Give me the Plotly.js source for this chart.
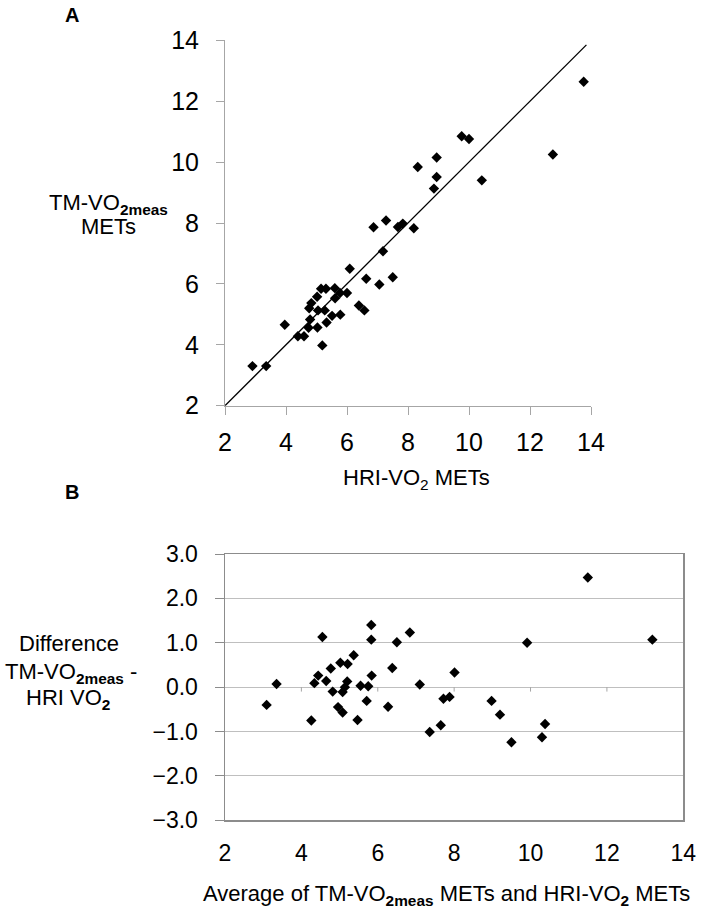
<!DOCTYPE html>
<html>
<head>
<meta charset="utf-8">
<script src="https://cdn.plot.ly/plotly-3.0.1.min.js"></script>
<style>html,body{margin:0;padding:0;background:#fff;}#chart{width:704px;height:909px;}</style>
</head>
<body>
<div id="chart"></div>
<script>
// Panel A: HRI-VO2 METs (x) vs TM-VO2meas METs (y)
const hriMets = [8.32, 8.94, 8.94, 8.85, 10.42, 7.28, 6.87, 7.67, 7.83, 8.19, 7.18, 6.09, 6.63, 7.06, 7.50,
  6.39, 6.57, 5.15, 5.31, 5.60, 5.02, 4.83, 4.76, 5.61, 5.77, 6.00, 5.05, 5.27, 4.79, 5.33, 5.51, 5.78,
  4.74, 5.03, 3.96, 4.39, 4.59, 5.19, 13.76, 12.75, 9.76, 10.00, 2.90, 3.35];
const tmMets = [9.84, 10.15, 9.51, 9.13, 9.40, 8.08, 7.86, 7.87, 7.98, 7.83, 7.07, 6.50, 6.17, 5.98, 6.22,
  5.29, 5.13, 5.84, 5.84, 5.86, 5.58, 5.37, 5.20, 5.53, 5.70, 5.70, 5.13, 5.13, 4.83, 4.73, 4.95, 4.99,
  4.56, 4.57, 4.66, 4.28, 4.28, 3.98, 12.64, 10.25, 10.85, 10.76, 3.30, 3.30];
const identityLine = [2, 13.85];

// Panel B: Bland-Altman
const avgMets = [3.09, 3.35, 4.26, 4.34, 4.44, 4.55, 4.65, 4.77, 4.82, 4.96, 5.02, 5.08, 5.08, 5.14, 5.20,
  5.21, 5.37, 5.47, 5.55, 5.71, 5.75, 5.83, 5.83, 5.84, 6.27, 6.38, 6.50, 6.84, 7.10, 7.36, 7.65, 7.72,
  7.88, 8.01, 8.98, 9.20, 9.50, 9.91, 10.30, 10.38, 13.19, 11.50];
const diffMets = [-0.40, 0.07, -0.75, 0.09, 0.26, 1.13, 0.14, 0.42, -0.10, -0.45, 0.55, -0.57, -0.11, 0.0, 0.13,
  0.52, 0.72, -0.74, 0.03, -0.31, 0.02, 1.40, 1.07, 0.26, -0.44, 0.43, 1.01, 1.23, 0.06, -1.01, -0.86, -0.26,
  -0.22, 0.33, -0.31, -0.62, -1.24, 1.00, -1.13, -0.83, 1.07, 2.47];

const xTicksA = [2, 4, 6, 8, 10, 12, 14];
const yTicksA = [2, 4, 6, 8, 10, 12, 14];
const xTicksB = [2, 4, 6, 8, 10, 12, 14];
const yTicksB = [-3, -2, -1, 0, 1, 2, 3];

const FONT = 'Liberation Sans, Arial, sans-serif';
const W = 704, H = 909;
const px = v => v / W;
const py = v => 1 - v / H;

const traces = [
  {x: identityLine, y: identityLine, xaxis: 'x', yaxis: 'y', mode: 'lines',
   line: {color: '#000', width: 1.3}, hoverinfo: 'skip', showlegend: false},
  {x: hriMets, y: tmMets, xaxis: 'x', yaxis: 'y', mode: 'markers', type: 'scatter',
   marker: {symbol: 'diamond', size: 8, color: '#000'}, showlegend: false},
  {x: avgMets, y: diffMets, xaxis: 'x2', yaxis: 'y2', mode: 'markers', type: 'scatter',
   marker: {symbol: 'diamond', size: 8, color: '#000'}, showlegend: false}
];

// small tick marks on the zero line of panel B (Excel style)
const zeroTicks = xTicksB.slice(1, -1).map(v => ({
  type: 'line', xref: 'x2', yref: 'y2', x0: v, x1: v, y0: 0, y1: -0.1,
  line: {color: '#a6a6a6', width: 1}
}));

function ann(text, x, y, size, opts) {
  return Object.assign({text: text, x: px(x), y: py(y), xref: 'paper', yref: 'paper',
    showarrow: false, xanchor: 'center', yanchor: 'middle',
    font: {family: FONT, size: size, color: '#000'}}, opts || {});
}

const layout = {
  width: W, height: H,
  margin: {l: 0, r: 0, t: 0, b: 0},
  paper_bgcolor: '#fff', plot_bgcolor: '#fff',
  showlegend: false,
  xaxis: {domain: [px(225), px(591)], anchor: 'y', range: [2, 14], tickvals: xTicksA,
    showline: true, linecolor: '#a6a6a6', linewidth: 1, ticks: 'outside', ticklen: 8,
    tickcolor: '#a6a6a6', showgrid: false, zeroline: false,
    tickfont: {family: FONT, size: 25, color: '#000'}, ticklabelstandoff: 6},
  yaxis: {domain: [py(405.7), py(40.3)], anchor: 'x', range: [2, 14], tickvals: yTicksA,
    showline: true, linecolor: '#a6a6a6', linewidth: 1, ticks: 'outside', ticklen: 8,
    tickcolor: '#a6a6a6', showgrid: false, zeroline: false,
    tickfont: {family: FONT, size: 25, color: '#000'}, ticklabelstandoff: 12},
  xaxis2: {domain: [px(225), px(683.3)], anchor: 'y2', range: [2, 14], tickvals: xTicksB,
    showline: true, mirror: true, linecolor: '#8c8c8c', linewidth: 1.5, ticks: '',
    showgrid: false, zeroline: false,
    tickfont: {family: FONT, size: 23, color: '#000'}, ticklabelstandoff: 12},
  yaxis2: {domain: [py(820.3), py(554)], anchor: 'x2', range: [-3, 3], tickvals: yTicksB,
    tickformat: '.1f', showline: true, mirror: true, linecolor: '#8c8c8c', linewidth: 1.5,
    ticks: 'outside', ticklen: 9, tickcolor: '#8c8c8c',
    showgrid: true, gridcolor: '#bfbfbf', gridwidth: 1, zeroline: false,
    tickfont: {family: FONT, size: 23, color: '#000'}, ticklabelstandoff: 12},
  shapes: zeroTicks,
  annotations: [
    ann('<b>A</b>', 72, 15, 20),
    ann('<b>B</b>', 72, 492, 20),
    ann('TM-VO<sub><b>2meas</b></sub>', 109, 204, 22),
    ann('METs', 109, 227, 22),
    ann('HRI-VO<sub>2</sub> METs', 416, 479, 22),
    ann('Difference', 69, 643, 22),
    ann('TM-VO<sub><b>2meas</b></sub> -', 71, 673, 22),
    ann('HRI VO<sub><b>2</b></sub>', 68, 699, 22),
    ann('Average of TM-VO<sub><b>2meas</b></sub> METs and HRI-VO<sub><b>2</b></sub> METs', 446, 895, 22)
  ]
};

Plotly.newPlot('chart', traces, layout, {staticPlot: true, displayModeBar: false});
</script>
</body>
</html>
